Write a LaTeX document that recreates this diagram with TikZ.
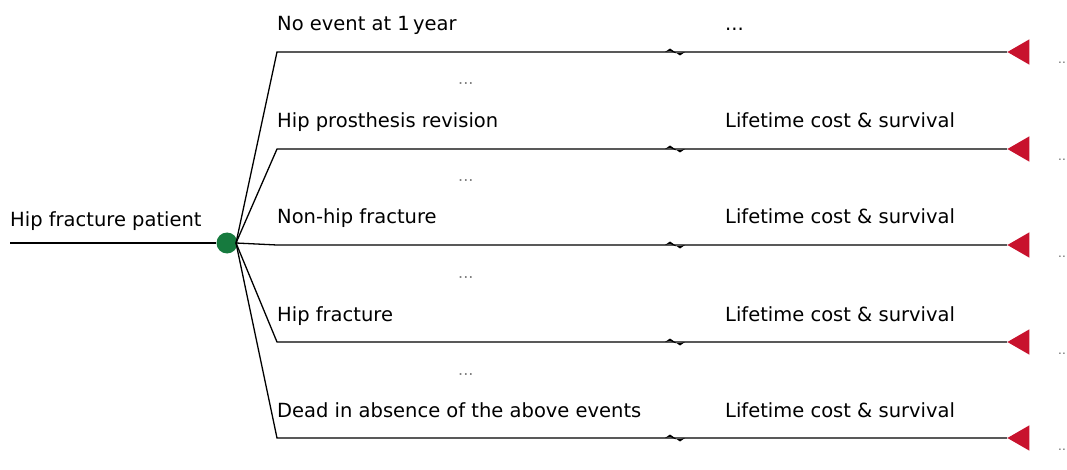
\documentclass[tikz,border=0pt]{standalone}
\usepackage{fontspec}
\setmainfont{DejaVu Sans}
\usetikzlibrary{shapes.geometric}
\definecolor{tred}{RGB}{200,18,45}
\definecolor{cgreen}{RGB}{22,122,62}
\newcommand{\threedots}{.\kern0pt.\kern0pt.}
\newcommand{\twodots}{.\kern0pt.}
\begin{document}
\begin{tikzpicture}[x=1pt,y=-1pt,
  lbl/.style={anchor=base west,inner sep=0pt,font=\fontsize{19.5}{22}\selectfont},
  dots/.style={anchor=base west,inner sep=0pt,text=gray,font=\fontsize{16}{18}\selectfont},
  edots/.style={anchor=base west,inner sep=0pt,text=gray!80!black,font=\fontsize{12}{14}\selectfont},
  edge/.style={line width=1.3pt,black},
  term/.style={isosceles triangle,shape border rotate=180,fill=tred,draw=none,minimum height=22pt,minimum width=23pt,inner sep=0pt,isosceles triangle apex angle=60}]
\useasboundingbox (0,0) rectangle (1067,470);
\node[lbl] (root) at (10,226) {Hip fracture patient};
\coordinate (r0) at (10,243);
\node[circle,fill=cgreen,minimum width=21pt,minimum height=21pt,inner sep=0pt] (chance) at (227,243) {};
\draw[edge] (r0) -- (chance);
\coordinate (cr) at (236,243);
\foreach \i/\y/\lab/\rlab in {1/52/{No event at 1\,year}/{\threedots},2/149/{Hip prosthesis revision}/{Lifetime cost \& survival},3/245/{Non-hip fracture}/{Lifetime cost \& survival},4/342/{Hip fracture}/{Lifetime cost \& survival},5/438/{Dead in absence of the above events}/{Lifetime cost \& survival}}{
  \coordinate (b\i) at (277,\y);
  \node[term,anchor=apex] (t\i) at (1007,\y) {};
  \draw[edge] (cr) -- (b\i) -- (t\i.apex);
  \node[lbl] (l\i) at (277,\y-21) {\lab};
  \node[lbl] (rl\i) at (725,\y-21) {\rlab};
  \fill[black] (665,\y) -- (670,\y-3.5) -- (675,\y) -- (680,\y+3.5) -- (685,\y) -- (680,\y+1.2) -- (675,\y+1) -- (670,\y-1.2) -- cycle;
  \node[edots] (e\i) at (1058,\y+12) {\twodots};
}
\foreach \i/\y in {1/85,2/182,3/278,4/375}{
  \node[dots] (m\i) at (458,\y) {\threedots};
}
\end{tikzpicture}
\end{document}
